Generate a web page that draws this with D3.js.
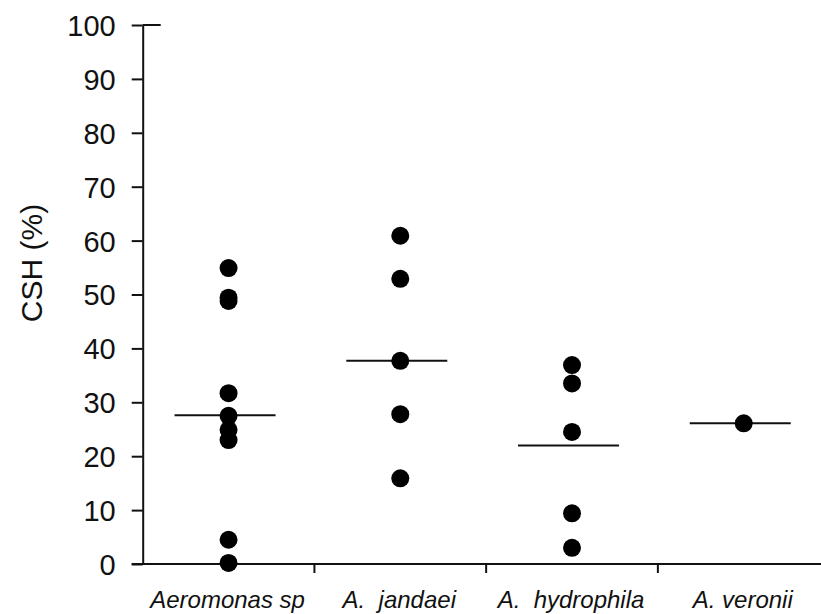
<!DOCTYPE html>
<html>
<head>
<meta charset="utf-8">
<script src="https://cdn.jsdelivr.net/npm/d3@7"></script>
<style>
  html, body { margin: 0; padding: 0; background: #fff; }
  svg { display: block; }
</style>
</head>
<body>
<svg id="chart" width="821" height="614"></svg>
<script>
// ---- data ----
const categories = ["Aeromonas sp", "A.  jandaei", "A.  hydrophila", "A. veronii"];
const aeromonasSp = [54.9, 49.4, 48.8, 31.7, 27.5, 24.9, 23.0, 4.5, 0.2];
const aJandaei = [60.9, 52.9, 37.7, 27.8, 15.9];
const aHydrophila = [36.9, 33.5, 24.5, 9.4, 3.0];
const aVeronii = [26.1];
const centralLines = [27.6, 37.7, 22.0, 26.1];
const yTicks = [0, 10, 20, 30, 40, 50, 60, 70, 80, 90, 100];
const yLabel = "CSH (%)";

const seriesValues = [aeromonasSp, aJandaei, aHydrophila, aVeronii];

// ---- layout ----
const svg = d3.select("#chart");
const x = d3.scaleBand().domain(categories).range([142.7, 829.6]).padding(0);
const y = d3.scaleLinear().domain([0, 100]).range([564, 25]);

const font = "Arial, 'Liberation Sans', Helvetica, sans-serif";
const ink = "#111";

// y axis
const yAxis = svg.append("g")
  .attr("transform", `translate(${x.range()[0]},0)`)
  .call(d3.axisLeft(y).tickValues(yTicks).tickSize(11).tickSizeOuter(0).tickPadding(16));
yAxis.select(".domain").attr("stroke", ink).attr("stroke-width", 2);
yAxis.selectAll(".tick line").attr("stroke", ink).attr("stroke-width", 2);
yAxis.selectAll(".tick text")
  .attr("font-family", font).attr("font-size", 29).attr("fill", ink)
  .attr("dy", "0.36em");

// top tick extension to the right
svg.append("line")
  .attr("x1", x.range()[0]).attr("x2", x.range()[0] + 18)
  .attr("y1", y(100)).attr("y2", y(100))
  .attr("stroke", ink).attr("stroke-width", 2);

// x axis line
svg.append("line")
  .attr("x1", x.range()[0] - 11).attr("x2", x.range()[1])
  .attr("y1", y(0)).attr("y2", y(0))
  .attr("stroke", ink).attr("stroke-width", 2);

// x ticks at band boundaries
const boundaries = categories.map(c => x(c)).concat([x.range()[1]]);
svg.append("g").selectAll("line")
  .data(boundaries.slice(1))
  .join("line")
  .attr("x1", d => d).attr("x2", d => d)
  .attr("y1", y(0)).attr("y2", y(0) + 9)
  .attr("stroke", ink).attr("stroke-width", 2);

// x labels
svg.append("g").selectAll("text")
  .data(categories)
  .join("text")
  .attr("x", d => x(d) + x.bandwidth() / 2 - 1)
  .attr("y", 608)
  .attr("text-anchor", "middle")
  .attr("font-family", font)
  .attr("font-style", "italic")
  .attr("font-size", 24)
  .attr("fill", ink)
  .style("white-space", "pre")
  .text(d => d);

// y label
svg.append("text")
  .attr("transform", `translate(42,263) rotate(-90)`)
  .attr("text-anchor", "middle")
  .attr("font-family", font)
  .attr("font-size", 30)
  .attr("fill", ink)
  .text(yLabel);

// central lines
svg.append("g").selectAll("line")
  .data(categories)
  .join("line")
  .attr("x1", (d) => x(d) + x.bandwidth() / 2 - 54)
  .attr("x2", (d) => x(d) + x.bandwidth() / 2 + 47)
  .attr("y1", (d, i) => y(centralLines[i]))
  .attr("y2", (d, i) => y(centralLines[i]))
  .attr("stroke", ink).attr("stroke-width", 2);

// dots
const pts = [];
categories.forEach((c, i) => seriesValues[i].forEach(v => pts.push({ c, v })));
svg.append("g").selectAll("circle")
  .data(pts)
  .join("circle")
  .attr("cx", d => x(d.c) + x.bandwidth() / 2)
  .attr("cy", d => y(d.v))
  .attr("r", 9)
  .attr("fill", "#000");
</script>
</body>
</html>
